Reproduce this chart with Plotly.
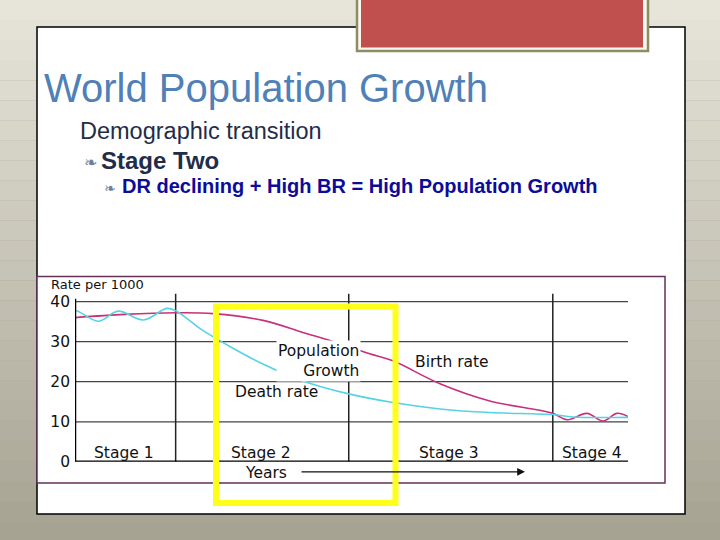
import plotly.graph_objects as go

# --- data (x = time 0..100 across the chart, y = rate per 1000) ---
birth_x = [0, 9, 18.2, 25, 34, 41.2, 47.9, 53.3, 57.5, 66, 75, 86.4, 89, 92.6, 95.5, 98, 100]
birth_y = [36, 36.8, 37.2, 37, 35.3, 32.3, 29.5, 27, 25.2, 19.5, 15.2, 12.1, 10.5, 12.1, 10.2, 12.1, 11.3]

death_x = [0, 0.3, 4.2, 7.8, 12.4, 16.6, 18.2, 20.8, 23.1, 34, 41.2, 49.7, 57.5, 66, 75, 86.4, 90, 100]
death_y = [37.5, 37.7, 35.1, 37.6, 35.4, 38.3, 37.7, 35.2, 32.8, 24.4, 20.2, 16.9, 14.8, 13.2, 12.3, 11.8, 11.2, 11.1]

stage_bounds = [18.2, 49.5, 86.4]
stage_labels = ["Stage 1", "Stage 2", "Stage 3", "Stage 4"]
stage_label_x = [8.9, 33.7, 67.7, 93.5]
y_ticks = [0, 10, 20, 30, 40]

# layout is designed on a 720x540 slide grid; the figure itself is a bit taller
# because the page snapshot squeezes it back to 540
W, H = 720, 540
FIG_H = 550


def px(x):
    return x / W


def py(y):
    return 1 - y / H


fig = go.Figure()

fig.add_trace(go.Scatter(x=birth_x, y=birth_y, mode="lines",
                         line=dict(color="#c8307c", width=1.6, shape="spline", smoothing=1),
                         hoverinfo="skip", showlegend=False))
fig.add_trace(go.Scatter(x=death_x, y=death_y, mode="lines",
                         line=dict(color="#55d3e3", width=1.6, shape="spline", smoothing=1),
                         hoverinfo="skip", showlegend=False))

shapes = []

# slide background: rough vertical gradient in bands
top = (0xe7, 0xe5, 0xda)
bot = (0xa6, 0xa3, 0x93)
n = 27
for i in range(n):
    t = i / (n - 1)
    c = tuple(int(top[k] + (bot[k] - top[k]) * t) for k in range(3))
    shapes.append(dict(type="rect", xref="paper", yref="paper", layer="below",
                       x0=0, x1=1, y0=py((i + 1) * H / n), y1=py(i * H / n),
                       fillcolor="rgb(%d,%d,%d)" % c, line_width=0))

# white panel
shapes.append(dict(type="rect", xref="paper", yref="paper", layer="below",
                   x0=px(37), x1=px(685), y0=py(513), y1=py(27),
                   fillcolor="white", line=dict(color="black", width=1.5)))
# red header box
shapes.append(dict(type="rect", xref="paper", yref="paper", layer="below",
                   x0=px(357), x1=px(648), y0=py(51), y1=py(-5),
                   fillcolor="#fbf8f2", line=dict(color="#8e8c62", width=2.5)))
shapes.append(dict(type="rect", xref="paper", yref="paper", layer="below",
                   x0=px(361), x1=px(643), y0=py(47.5), y1=py(-5),
                   fillcolor="#c0504d", line_width=0))
# chart frame
shapes.append(dict(type="rect", xref="paper", yref="paper", layer="below",
                   x0=px(37), x1=px(665), y0=py(482), y1=py(276),
                   fillcolor="white", line=dict(color="#62305a", width=1.5)))

# gridlines
for v in y_ticks[1:]:
    shapes.append(dict(type="line", xref="x", yref="y", layer="below",
                       x0=0, x1=100, y0=v, y1=v, line=dict(color="#444444", width=1.2)))
# stage dividers
for b in stage_bounds:
    shapes.append(dict(type="line", xref="x", yref="y", layer="below",
                       x0=b, x1=b, y0=0, y1=42, line=dict(color="#222222", width=1.5)))
# axes
shapes.append(dict(type="line", xref="x", yref="y", x0=0, x1=0, y0=0, y1=40.7,
                   line=dict(color="black", width=2.5)))
shapes.append(dict(type="line", xref="x", yref="y", x0=0, x1=100.5, y0=0, y1=0,
                   line=dict(color="black", width=2.5)))
# yellow highlight box
shapes.append(dict(type="rect", xref="paper", yref="paper", layer="above",
                   x0=px(216), x1=px(395.5), y0=py(502), y1=py(306),
                   line=dict(color="#ffff1a", width=6)))

chart_font = dict(family="DejaVu Sans", size=15.5, color="#111111")
ann = []
ann.append(dict(x=px(49), y=py(283.5), xref="paper", yref="paper", text="Rate per 1000",
                showarrow=False, xanchor="left", yanchor="middle",
                font=dict(family="DejaVu Sans", size=13, color="#111111")))
ann.append(dict(x=51.8, y=25.1, xref="x", yref="y", text="Population<br>Growth", showarrow=False,
                xanchor="right", yanchor="middle", align="right", bgcolor="white",
                font=chart_font))
ann.append(dict(x=36.5, y=17.5, xref="x", yref="y", text="Death rate", showarrow=False,
                font=chart_font))
ann.append(dict(x=68.2, y=25, xref="x", yref="y", text="Birth rate", showarrow=False,
                font=chart_font))
for lx, lab in zip(stage_label_x, stage_labels):
    ann.append(dict(x=lx, y=2.3, xref="x", yref="y", text=lab, showarrow=False,
                    font=chart_font))
ann.append(dict(x=px(266), y=py(472), xref="paper", yref="paper", text="Years",
                showarrow=False, xanchor="center", yanchor="middle", font=chart_font))
ann.append(dict(x=px(525), y=py(471), xref="paper", yref="paper", ax=-225, ay=0,
                text="", showarrow=True, arrowhead=2, arrowsize=1.2, arrowwidth=1.3,
                arrowcolor="#111111"))

# slide text
ann.append(dict(x=px(42), y=py(88), xref="paper", yref="paper", text="World Population Growth",
                showarrow=False, xanchor="left", yanchor="middle",
                font=dict(family="Liberation Sans", size=40, color="#4f80b8")))
ann.append(dict(x=px(78), y=py(131), xref="paper", yref="paper", text="Demographic transition",
                showarrow=False, xanchor="left", yanchor="middle",
                font=dict(family="Liberation Sans", size=23.5, color="#1f2d4a")))
ann.append(dict(x=px(82), y=py(162), xref="paper", yref="paper", text="❧",
                showarrow=False, xanchor="left", yanchor="middle",
                font=dict(family="DejaVu Sans", size=16, color="#6f7f98")))
ann.append(dict(x=px(99), y=py(160), xref="paper", yref="paper", text="<b>Stage Two</b>",
                showarrow=False, xanchor="left", yanchor="middle",
                font=dict(family="Liberation Sans", size=24, color="#1f2d4a")))
ann.append(dict(x=px(102), y=py(188), xref="paper", yref="paper", text="❧",
                showarrow=False, xanchor="left", yanchor="middle",
                font=dict(family="DejaVu Sans", size=14, color="#6f7f98")))
ann.append(dict(x=px(120), y=py(186), xref="paper", yref="paper",
                text="<b>DR declining + High BR = High Population Growth</b>",
                showarrow=False, xanchor="left", yanchor="middle",
                font=dict(family="Liberation Sans", size=20, color="#0c0c99")))

fig.update_layout(
    width=W, height=FIG_H, autosize=False,
    margin=dict(l=0, r=0, t=0, b=0),
    paper_bgcolor="#a6a393",
    plot_bgcolor="rgba(0,0,0,0)",
    shapes=shapes,
    annotations=ann,
    xaxis=dict(domain=[px(75), px(628)], range=[0, 100], showgrid=False, zeroline=False,
               showticklabels=False, showline=False, fixedrange=True),
    yaxis=dict(domain=[py(461), py(293)], range=[0, 42], tickvals=y_ticks,
               showgrid=False, zeroline=False, showline=False, ticks="",
               ticklabelstandoff=4, fixedrange=True,
               tickfont=dict(family="DejaVu Sans", size=15.5, color="#111111")),
)

page_fix = (
    "document.body.style.margin='0';"
    "document.body.style.overflow='hidden';"
)
fig.write_html("out.html", config={"displayModeBar": False, "responsive": False},
               post_script=page_fix)
